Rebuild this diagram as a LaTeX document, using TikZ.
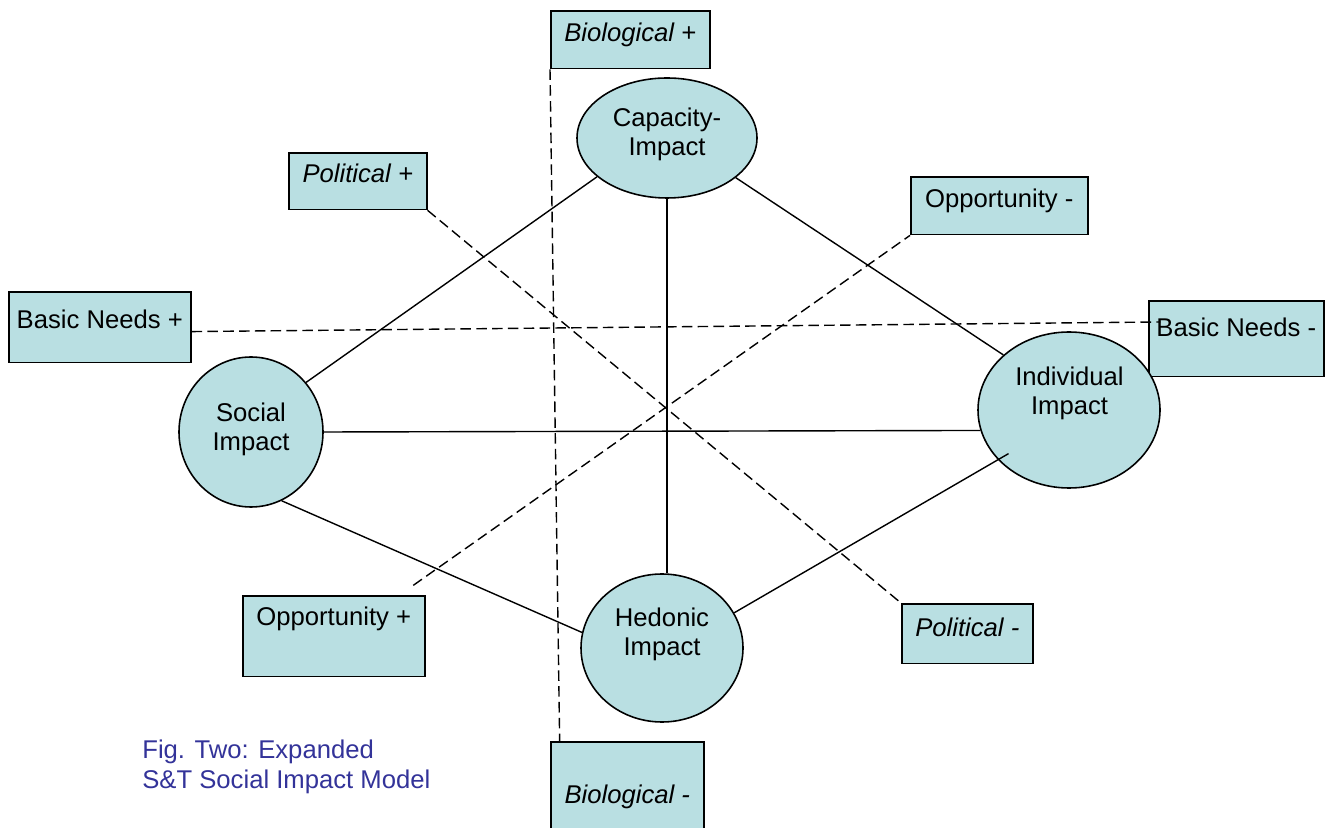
\documentclass[tikz,border=0pt]{standalone}
\usepackage{fontspec}
\setmainfont{Liberation Sans}
\usepackage{tikz}
\usetikzlibrary{shapes.geometric}
\definecolor{imteal}{HTML}{B9DFE2}
\definecolor{imblue}{HTML}{333399}

\begin{document}
\begin{tikzpicture}[
  font=\fontsize{14.6}{16.5}\selectfont,
  impact/.style={ellipse,draw=black,line width=0.9pt,fill=imteal,inner sep=0pt},
  imptext/.style={align=center,inner sep=0pt},
  factor/.style={rectangle,draw=black,line width=0.9pt,fill=imteal,
                 inner sep=0pt,anchor=north west},
  link/.style={line width=0.8pt},
  pair/.style={line width=0.8pt,dash pattern=on 6pt off 3pt},
]
\useasboundingbox (0,0) rectangle (26.68,16.54);

% factor boxes, text sits in the upper part
\node[factor,minimum width=3.18cm,text height=17.6pt,text depth=15.3pt]
  (bioP) at (11.00,16.34) {\itshape Biological +};
\node[factor,minimum width=3.06cm,text height=35.2pt,text depth=17pt]
  (bioM) at (11.00,1.72) {\itshape Biological -};
\node[factor,minimum width=2.76cm,text height=17pt,text depth=15.3pt]
  (polP) at (5.76,13.50) {\itshape Political +};
\node[factor,minimum width=2.62cm,text height=18.7pt,text depth=15.3pt]
  (polM) at (18.02,4.48) {\itshape Political -};
\node[factor,minimum width=3.64cm,text height=17pt,text depth=28.9pt]
  (oppP) at (4.84,4.64) {Opportunity +};
\node[factor,minimum width=3.54cm,text height=17.6pt,text depth=15.3pt]
  (oppM) at (18.20,13.02) {Opportunity -};
\node[factor,minimum width=3.64cm,text height=21pt,text depth=19.3pt]
  (bnP) at (0.16,10.72) {Basic Needs +};
\node[factor,minimum width=3.50cm,text height=20.4pt,text depth=22.7pt]
  (bnM) at (22.96,10.54) {Basic Needs -};

% the four impacts
\node[impact,minimum width=3.60cm,minimum height=2.40cm] (cap) at (13.34,13.78) {};
\node[impact,minimum width=2.88cm,minimum height=3.00cm] (soc) at (5.02,7.90) {};
\node[impact,minimum width=3.64cm,minimum height=3.12cm] (ind) at (21.38,8.34) {};
\node[impact,minimum width=3.24cm,minimum height=2.96cm] (hed) at (13.24,3.58) {};
\node[imptext] (captxt) at (13.34,13.86) {Capacity-\\Impact};
\node[imptext] (soctxt) at (5.02,7.95) {Social\\Impact};
\node[imptext] (indtxt) at (21.39,8.67) {Individual\\Impact};
\node[imptext] (hedtxt) at (13.24,3.85) {Hedonic\\Impact};

\node[align=left,anchor=west,inner sep=0pt,text=imblue,
      font=\fontsize{14.6}{17.2}\selectfont] (caption) at (2.84,1.20)
  {Fig. Two: Expanded\\S\&T Social Impact Model};

% links between impacts
\draw[link] (soc.42) -- (cap.209);
\draw[link] (cap.-30) -- (ind.140);
\draw[link] (cap.south) -- (cap.south |- hed.north);
\draw[link] (soc.east) -- (ind.193);
\draw[link] (soc.-66) -- (hed.169);
\draw[link,shorten >=-7pt] (hed.26) -- (ind.215);

% opposing factor pairs
\draw[pair] (bioP.south west) -- ([xshift=5.5pt]bioM.north west);
\draw[pair] (polP.south east) -- (polM.north west);
\draw[pair] ([xshift=-7pt,yshift=5.5pt]oppP.north east) -- (oppM.south west);
\draw[pair] ([yshift=-2.5pt]bnP.east) -- ([xshift=7pt,yshift=-12.5pt]bnM.north west);
\end{tikzpicture}
\end{document}
